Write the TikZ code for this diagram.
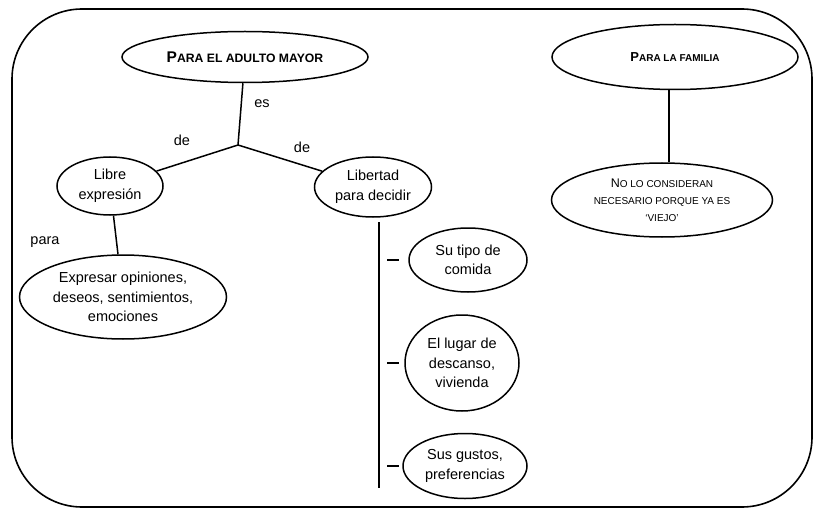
\documentclass[tikz,border=0pt]{standalone}
\usepackage{fontspec}
\setmainfont{Liberation Sans}
\usetikzlibrary{shapes.geometric}
\newcommand\smc[3][10]{#2{\fontsize{#1}{12}\selectfont #3}}
\begin{document}
\begin{tikzpicture}[x=1pt,y=-1pt,
  idea/.style={ellipse,draw,line width=1.5pt,inner sep=0pt,align=center,
    font=\fontsize{14.5}{19.5}\selectfont},
  word/.style={font=\fontsize{14.5}{17}\selectfont,inner sep=0pt},
  link/.style={line width=1.5pt}]
\useasboundingbox (0,0) rectangle (814,508);
\draw[line width=1.6pt,rounded corners=70pt] (12,9) rectangle (812,507);

\node[idea,minimum width=246,minimum height=51,font=\bfseries\fontsize{15.5}{17}\selectfont] (adulto) at (245,57) {\smc[12.2]{P}{ARA EL ADULTO MAYOR}};
\node[idea,minimum width=106,minimum height=58] (libre) at (110,186) {Libre\\expresión};
\node[idea,minimum width=117,minimum height=60] (libertad) at (373,187) {Libertad\\para decidir};
\node[idea,minimum width=207,minimum height=84] (expresar) at (123,297) {Expresar opiniones,\\deseos, sentimientos,\\emociones};
\node[idea,minimum width=118,minimum height=64] (comida) at (468,260) {Su tipo de\\comida};
\node[idea,minimum width=114,minimum height=96] (lugar) at (462,363) {El lugar de\\descanso,\\vivienda};
\node[idea,minimum width=124,minimum height=65] (gustos) at (465,466) {Sus gustos,\\preferencias};
\node[idea,minimum width=246,minimum height=65,font=\bfseries\fontsize{13}{15}\selectfont] (familia) at (675,57) {\smc{P}{ARA LA FAMILIA}};
\node[idea,minimum width=221,minimum height=74,font=\fontsize{12.5}{17}\selectfont] (viejo) at (662,200) {\smc{N}{O LO CONSIDERAN}\\\smc{}{NECESARIO PORQUE YA ES}\\\smc{}{`VIEJO'}};

\coordinate (j) at (238,145);
\coordinate (bt) at (379,222);
\coordinate (bb) at (379,488);

\node[word] (es) at (262,104) {es};
\node[word] (deL) at (182,140) {de};
\node[word] (deR) at (302,147) {de};
\node[word] (para) at (45,242) {para};

\draw[link] (adulto) -- (j);
\draw[link] (j) -- (libre);
\draw[link] (j) -- (libertad);
\draw[link] (libre) -- (expresar);
\draw[link] (familia.south -| 669,0) -- (viejo.north -| 669,0);
\draw[link] (bt) -- (bb);
\foreach \n in {comida,lugar,gustos}
  \draw[link] ([xshift=8pt]bt |- \n) -- ++(12,0);
\end{tikzpicture}
\end{document}
